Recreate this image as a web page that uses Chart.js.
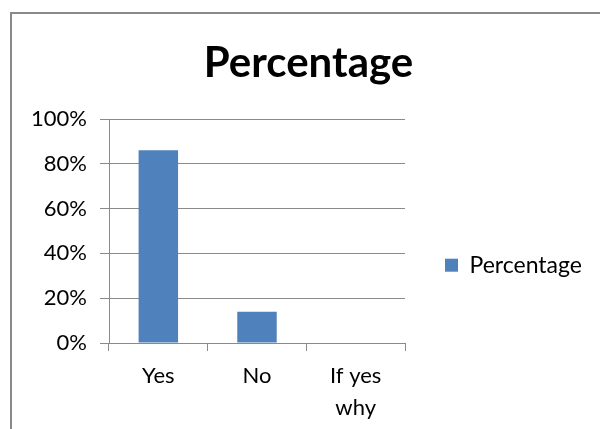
<!DOCTYPE html>
<html>
<head>
<meta charset="utf-8">
<script src="https://cdn.jsdelivr.net/npm/chart.js@4.4.0/dist/chart.umd.min.js"></script>
<style>
  html, body { margin: 0; padding: 0; background: #ffffff; }
  #wrap { position: relative; width: 600px; height: 429px; overflow: hidden; }
  #frame { position: absolute; left: 10px; top: 12px; width: 700px; height: 600px;
           border-left: 2px solid #898989; border-top: 2px solid #898989; box-sizing: border-box; pointer-events: none; }
  canvas { position: absolute; left: 0; top: 0; }
</style>
</head>
<body>
<div id="wrap">
  <canvas id="c" width="600" height="429"></canvas>
  <div id="frame"></div>
</div>
<script>
const categories = ['Yes', 'No', ['If yes', 'why']];
const seriesName = 'Percentage';
const seriesValues = [0.86, 0.14, 0];
const yTickLabels = ['0%', '20%', '40%', '60%', '80%', '100%'];

const FONT = 'Lato, "Noto Sans", sans-serif';
const GRID = '#8a8a8a';
const LEGEND_WIDTH = 188;

// Let the right-hand legend take a fixed width (Chart.js caps side boxes at a quarter of the width).
const legendWidthPlugin = {
  id: 'legendWidth',
  beforeLayout(chart) {
    const lg = chart.legend;
    if (lg && !lg._fixedWidth) {
      const fit = lg.fit;
      lg.fit = function () { fit.call(this); this.width = LEGEND_WIDTH; };
      lg._fixedWidth = true;
    }
  }
};

new Chart(document.getElementById('c'), {
  type: 'bar',
  data: {
    labels: categories,
    datasets: [{
      label: seriesName,
      data: seriesValues,
      backgroundColor: '#4f81bd',
      borderWidth: 0,
      barPercentage: 0.4,
      categoryPercentage: 1.0
    }]
  },
  plugins: [legendWidthPlugin],
  options: {
    responsive: false,
    animation: false,
    devicePixelRatio: 1,
    layout: { padding: { left: 24, right: 7, top: 0, bottom: 0 } },
    plugins: {
      tooltip: { enabled: false },
      title: {
        display: true,
        text: 'Percentage',
        color: '#000000',
        font: { family: FONT, size: 42, weight: 'bold', lineHeight: 1.2 },
        padding: { top: 38, bottom: 30.6 }
      },
      legend: {
        display: true,
        position: 'right',
        title: { display: true, text: '', font: { size: 12, lineHeight: 1.2 }, padding: { top: 87, bottom: 0 } },
        labels: {
          boxWidth: 13,
          boxHeight: 13,
          padding: 40,
          color: '#000000',
          font: { family: FONT, size: 23 }
        }
      }
    },
    scales: {
      x: {
        grid: { display: true, drawOnChartArea: false, drawTicks: true, tickLength: 8, color: GRID, offset: true },
        border: { display: true, color: GRID, width: 1 },
        ticks: { color: '#000000', font: { family: FONT, size: 22, lineHeight: 1.45 }, padding: 9, maxRotation: 0, autoSkip: false },
        afterFit: (s) => { s.height = 86; }
      },
      y: {
        min: 0,
        max: 1,
        grid: { color: GRID, tickLength: 9, drawTicks: true },
        border: { display: true, color: GRID, width: 1 },
        ticks: {
          stepSize: 0.2,
          color: '#000000',
          font: { family: FONT, size: 22 },
          padding: 13,
          callback: (v, i) => yTickLabels[i]
        },
        afterFit: (s) => { s.width = 85; }
      }
    }
  }
});
</script>
</body>
</html>
